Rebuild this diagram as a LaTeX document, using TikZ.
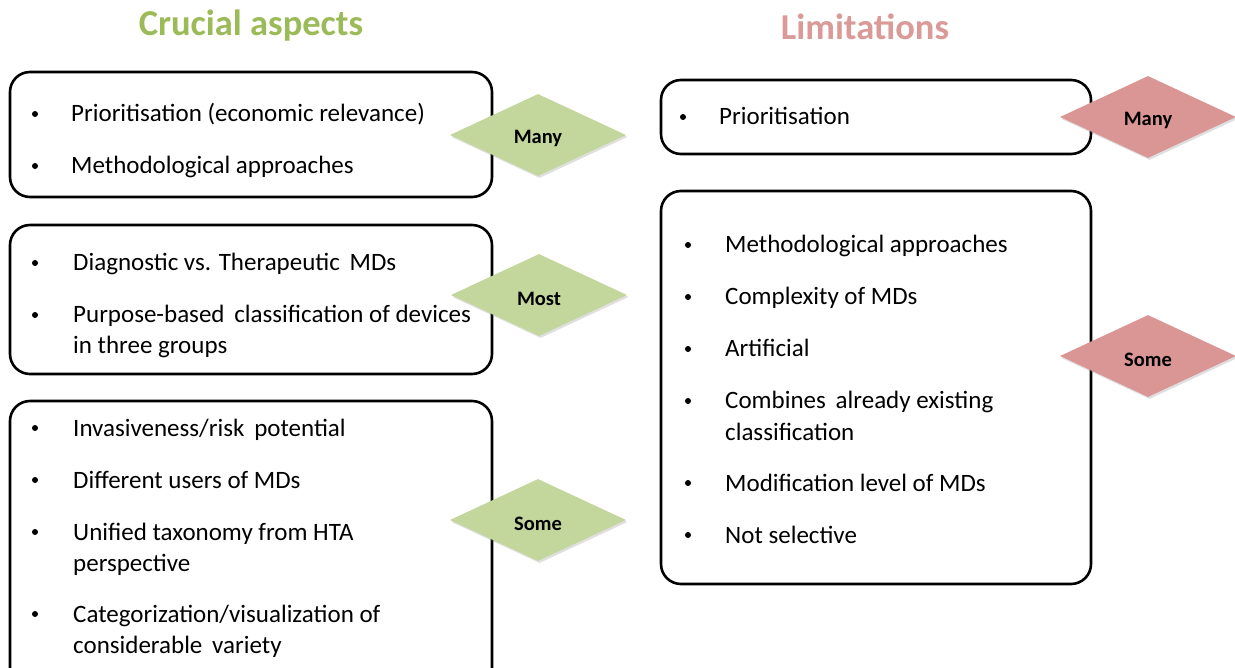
\documentclass[tikz,border=0pt]{standalone}
\usepackage{fontspec}
\setmainfont{Carlito}
\usetikzlibrary{shapes.geometric,shadows}
\definecolor{leafgreen}{HTML}{C3D69B}
\definecolor{titlegreen}{HTML}{9BBB59}
\definecolor{rosefill}{HTML}{D99694}
\definecolor{titlerose}{HTML}{DA9A98}
\begin{document}
\begin{tikzpicture}[x=1pt,y=-1pt,
  listbox/.style={draw=black,line width=2.6pt,rounded corners=20pt,fill=white},
  item/.style={anchor=base west,inner sep=0pt,font=\fontsize{25}{31}\selectfont},
  dot/.style={circle,fill=black,draw=none,inner sep=0pt,minimum size=6pt},
  gem/.style={diamond,draw=none,inner sep=0pt,minimum width=176pt,minimum height=82pt,
    aspect=2.15,
    drop shadow={shadow xshift=1.5pt,shadow yshift=-2pt,opacity=0.25},
    label={[inner sep=0pt,yshift=-3.5pt,font=\fontsize{20.5}{22}\selectfont\bfseries]center:#1}},
  heading/.style={anchor=base,inner sep=0pt,font=\fontsize{36.5}{40}\selectfont\bfseries}]
\useasboundingbox (0,0) rectangle (1235,668);
\clip (0,0) rectangle (1235,668);

% column headings
\node[heading,text=titlegreen] (hcrucial) at (251,36) {Crucial aspects};
\node[heading,text=titlerose] (hlimits) at (865,40) {Limitations};

% left column boxes
\draw[listbox] (10,72) rectangle (492,197);
\draw[listbox] (10,225) rectangle (492,374);
\draw[listbox] (10,401) rectangle (492,690);

% right column boxes
\draw[listbox] (661,80) rectangle (1091,154);
\draw[listbox] (661,191) rectangle (1091,584);

% left box 1
\node[dot] (b11) at (35,114) {};
\node[item] (t11) at (71,122) {Prioritisation (economic relevance)};
\node[dot] (b12) at (35,166) {};
\node[item] (t12) at (71,174) {Methodological approaches};

% left box 2
\node[dot] (b21) at (35,263) {};
\node[item] (t21) at (73,271) {Diagnostic vs. Therapeutic \,MDs};
\node[dot] (b22) at (35,315) {};
\node[item] (t22a) at (73,323) {Purpose-based \,classification of devices};
\node[item] (t22b) at (73,354) {in three groups};

% left box 3
\node[dot] (b31) at (35,428) {};
\node[item] (t31) at (73,436) {Invasiveness/risk \,potential};
\node[dot] (b32) at (35,480) {};
\node[item] (t32) at (73,488) {Different users of MDs};
\node[dot] (b33) at (35,532) {};
\node[item] (t33a) at (73,540) {Unified taxonomy from HTA};
\node[item] (t33b) at (73,571) {perspective};
\node[dot] (b34) at (35,614) {};
\node[item] (t34a) at (73,622) {Categorization/visualization of};
\node[item] (t34b) at (73,653) {considerable \,variety};

% right box 1
\node[dot] (r11) at (683,117) {};
\node[item] (s11) at (719,125) {Prioritisation};

% right box 2
\node[dot] (r21) at (688,245) {};
\node[item] (s21) at (725,253) {Methodological approaches};
\node[dot] (r22) at (688,297) {};
\node[item] (s22) at (725,305) {Complexity of MDs};
\node[dot] (r23) at (688,349) {};
\node[item] (s23) at (725,357) {Artificial};
\node[dot] (r24) at (688,401) {};
\node[item] (s24a) at (725,409) {Combines \,already existing};
\node[item] (s24b) at (725,440) {classification};
\node[dot] (r25) at (688,483) {};
\node[item] (s25) at (725,491) {Modification level of MDs};
\node[dot] (r26) at (688,535) {};
\node[item] (s26) at (725,543) {Not selective};

% rating diamonds
\node[gem=Many,fill=leafgreen] (gmany) at (538,135) {};
\node[gem=Most,fill=leafgreen] (gmost) at (539,295) {};
\node[gem=Some,fill=leafgreen] (gsome) at (538,520) {};
\node[gem=Many,fill=rosefill] (pmany) at (1148,117) {};
\node[gem=Some,fill=rosefill] (psome) at (1148,356) {};
\end{tikzpicture}
\end{document}
